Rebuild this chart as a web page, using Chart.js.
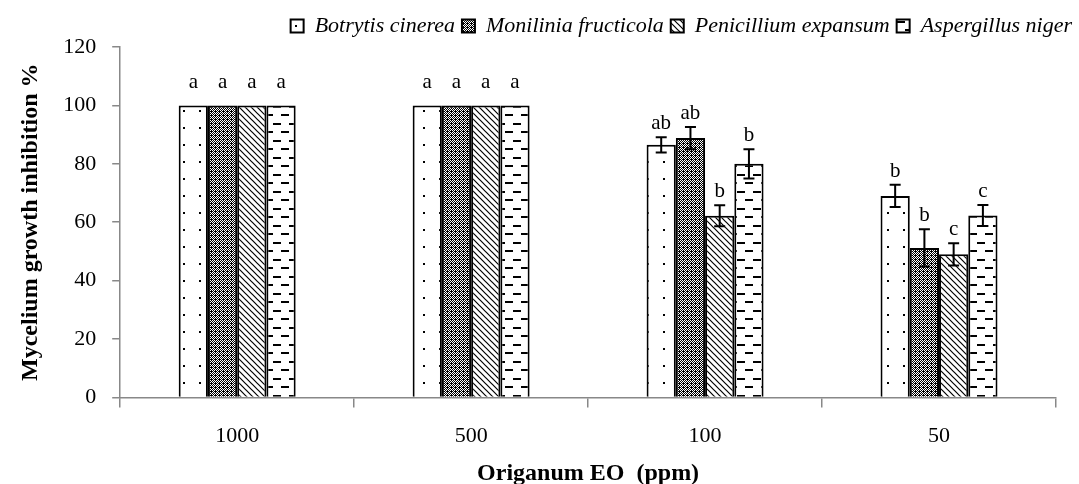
<!DOCTYPE html>
<html lang="en">
  <head>
    <meta charset="UTF-8" />
    <script src="https://cdn.jsdelivr.net/npm/chart.js"></script>
    <title>Origanum EO</title>
    <style>
      html, body { margin: 0; padding: 0; background: #fff; }
      #wrap { width: 1079px; height: 484px; }
    </style>
  </head>
  <body>
    <div id="wrap"><canvas id="grafico"></canvas></div>
  </body>
</html>

<script>
  // dados
  const doses = ["1000", "500", "100", "50"];
  const fungos = ["Botrytis cinerea", "Monilinia fructicola", "Penicillium expansum", "Aspergillus niger"];

  const botrytis = [100, 100, 86.5, 69];
  const monilinia = [100, 100, 88.8, 51.2];
  const penicillium = [100, 100, 62.2, 49];
  const aspergillus = [100, 100, 80, 62.3];

  const erroBotrytis = [0, 0, 2.6, 3.8];
  const erroMonilinia = [0, 0, 3.8, 6.4];
  const erroPenicillium = [0, 0, 3.6, 3.8];
  const erroAspergillus = [0, 0, 5, 3.6];

  const letrasBotrytis = ["a", "a", "ab", "b"];
  const letrasMonilinia = ["a", "a", "ab", "b"];
  const letrasPenicillium = ["a", "a", "b", "c"];
  const letrasAspergillus = ["a", "a", "b", "c"];

  const ticksY = [0, 20, 40, 60, 80, 100, 120];

  const fonte = "'Liberation Serif', 'DejaVu Serif', serif";

  // padroes de preenchimento
  function novoPadrao(w, h, desenha) {
    const c = document.createElement("canvas");
    c.width = w;
    c.height = h;
    const ctx = c.getContext("2d");
    ctx.fillStyle = "#fff";
    ctx.fillRect(0, 0, w, h);
    ctx.fillStyle = "#000";
    ctx.strokeStyle = "#000";
    desenha(ctx);
    return ctx.createPattern(c, "repeat");
  }

  const padraoPontos = novoPadrao(16, 17, function (ctx) {
    ctx.fillRect(7, 8, 2, 2);
  });

  const padraoXadrez = novoPadrao(4, 4, function (ctx) {
    ctx.fillRect(0, 0, 4, 4);
    ctx.fillStyle = "#fff";
    ctx.fillRect(0, 0, 1, 1);
    ctx.fillRect(2, 0, 1, 1);
    ctx.fillRect(1, 1, 1, 1);
    ctx.fillRect(3, 1, 1, 1);
    ctx.fillRect(0, 2, 1, 1);
    ctx.fillRect(2, 2, 1, 1);
    ctx.fillRect(1, 3, 1, 1);
  });

  const padraoDiagonal = novoPadrao(6, 6, function (ctx) {
    ctx.lineWidth = 1.2;
    ctx.beginPath();
    ctx.moveTo(-1, -1); ctx.lineTo(7, 7);
    ctx.moveTo(-4, 2); ctx.lineTo(2, 8);
    ctx.moveTo(2, -4); ctx.lineTo(8, 2);
    ctx.stroke();
  });

  const padraoTracos = novoPadrao(16, 17, function (ctx) {
    ctx.fillRect(1, 4, 8, 2);
    ctx.fillRect(9, 12, 7, 2);
    ctx.fillRect(0, 12, 1, 2);
  });

  const erros = [erroBotrytis, erroMonilinia, erroPenicillium, erroAspergillus];
  const letras = [letrasBotrytis, letrasMonilinia, letrasPenicillium, letrasAspergillus];

  // barras de erro e letras
  const pluginErros = {
    id: "erros",
    afterDatasetsDraw(chart) {
      const ctx = chart.ctx;
      const y = chart.scales.y;
      ctx.save();
      chart.data.datasets.forEach(function (ds, i) {
        const meta = chart.getDatasetMeta(i);
        meta.data.forEach(function (barra, j) {
          const v = ds.data[j];
          const e = erros[i][j];
          const topo = y.getPixelForValue(v + e);
          const base = y.getPixelForValue(v - e);
          if (e > 0) {
            ctx.strokeStyle = "#000";
            ctx.lineWidth = 2;
            ctx.beginPath();
            ctx.moveTo(barra.x, topo);
            ctx.lineTo(barra.x, base);
            ctx.moveTo(barra.x - 5.5, topo);
            ctx.lineTo(barra.x + 5.5, topo);
            ctx.moveTo(barra.x - 5.5, base);
            ctx.lineTo(barra.x + 5.5, base);
            ctx.stroke();
          }
          ctx.fillStyle = "#000";
          ctx.font = "21px " + fonte;
          ctx.textAlign = "center";
          ctx.textBaseline = "alphabetic";
          const desloc = e > 0 ? 8 : 17;
          ctx.fillText(letras[i][j], barra.x, topo - desloc);
        });
      });
      ctx.restore();
    },
  };

  const config = {
    type: "bar",
    data: {
      labels: doses,
      datasets: [
        { label: fungos[0], data: botrytis, backgroundColor: padraoPontos },
        { label: fungos[1], data: monilinia, backgroundColor: padraoXadrez },
        { label: fungos[2], data: penicillium, backgroundColor: padraoDiagonal },
        { label: fungos[3], data: aspergillus, backgroundColor: padraoTracos },
      ],
    },
    options: {
      responsive: true,
      maintainAspectRatio: false,
      animation: false,
      datasets: {
        bar: {
          borderColor: "#000",
          borderWidth: 2,
          categoryPercentage: 0.5,
          barPercentage: 1,
        },
      },
      layout: { padding: { top: 8, right: 0, left: 8, bottom: 0 } },
      plugins: {
        legend: {
          position: "top",
          align: "end",
          labels: {
            color: "#000",
            font: { family: fonte, size: 22, style: "italic" },
            boxWidth: 13,
            boxHeight: 13,
            padding: 7,
          },
        },
        tooltip: { enabled: false },
      },
      scales: {
        x: {
          grid: {
            display: true,
            drawOnChartArea: false,
            color: "#888",
            tickLength: 10,
            lineWidth: 1.5,
          },
          border: { color: "#888", width: 1.5 },
          ticks: {
            color: "#000",
            font: { family: fonte, size: 22 },
            padding: 16,
          },
          title: {
            display: true,
            text: "Origanum EO  (ppm)",
            color: "#000",
            font: { family: fonte, size: 24, weight: "bold", lineHeight: 1.05 },
            padding: { top: -5, bottom: -2 },
          },
        },
        y: {
          min: 0,
          max: 120,
          afterBuildTicks(axis) {
            axis.ticks = ticksY.map(function (v) { return { value: v }; });
          },
          grid: {
            display: true,
            drawOnChartArea: false,
            color: "#888",
            tickLength: 8,
            lineWidth: 1.5,
          },
          border: { color: "#888", width: 1.5 },
          ticks: {
            color: "#000",
            font: { family: fonte, size: 22 },
            padding: 16,
          },
          title: {
            display: true,
            text: "Mycelium growth inhibition %",
            color: "#000",
            font: { family: fonte, size: 24, weight: "bold", lineHeight: 1.05 },
            padding: { top: 10, bottom: 4 },
          },
        },
        // margem vazia a direita do grafico
        margem: {
          position: "right",
          display: true,
          grid: { display: false },
          border: { display: false },
          ticks: { display: false },
          afterFit(axis) { axis.width = 23; },
        },
      },
    },
    plugins: [pluginErros],
  };

  new Chart(document.getElementById("grafico"), config);
</script>
